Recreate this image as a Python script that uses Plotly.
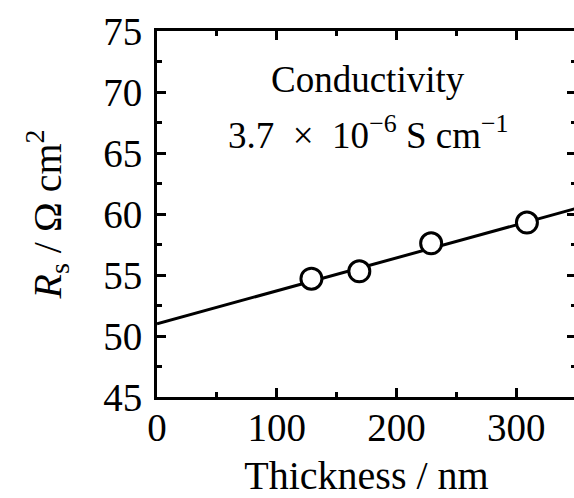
import plotly.graph_objects as go

# Data
thickness_nm = [129, 169, 229, 309]
rs_ohm_cm2 = [54.7, 55.3, 57.6, 59.3]
fit_x = [0, 350]
fit_y = [51.0, 60.45]
x_ticks = [0, 100, 200, 300]
y_ticks = [45, 50, 55, 60, 65, 70, 75]
note_line1 = "Conductivity"
note_line2 = "3.7 \u00a0×\u00a0 10<sup>−6</sup> S cm<sup>−1</sup>"

FONT = "Liberation Serif"

fig = go.Figure()
fig.add_trace(go.Scatter(x=fit_x, y=fit_y, mode="lines",
                         line=dict(color="black", width=3), showlegend=False,
                         hoverinfo="skip"))
fig.add_trace(go.Scatter(x=thickness_nm, y=rs_ohm_cm2, mode="markers",
                         marker=dict(symbol="circle", size=21, color="white",
                                     line=dict(color="black", width=3)),
                         showlegend=False))

fig.add_annotation(x=176, xref="x", y=71.0, yref="y", text=note_line1,
                   showarrow=False, font=dict(family=FONT, size=37, color="black"))
fig.add_annotation(x=177, xref="x", y=66.7, yref="y", text=note_line2,
                   showarrow=False, font=dict(family=FONT, size=37, color="black"))

fig.update_layout(
    width=580, height=498,
    margin=dict(l=157, r=1, t=31, b=101),
    paper_bgcolor="white", plot_bgcolor="white",
    font=dict(family=FONT, size=39, color="black"),
    xaxis=dict(range=[0, 350], tickvals=x_ticks, ticks="inside", ticklen=9, tickwidth=2.5,
               tickcolor="black", showline=True, linecolor="black", linewidth=3,
               mirror="ticks", showgrid=False, zeroline=False,
               minor=dict(dtick=50, tick0=0, ticks="inside", ticklen=5, tickwidth=2.5,
                          tickcolor="black", showgrid=False),
               tickfont=dict(family=FONT, size=39), ticklabelstandoff=-6,
               title=dict(text="Thickness / nm", font=dict(family=FONT, size=40), standoff=15)),
    yaxis=dict(range=[45, 75], tickvals=y_ticks, ticks="inside", ticklen=9, tickwidth=2.5,
               tickcolor="black", showline=True, linecolor="black", linewidth=3,
               mirror="ticks", showgrid=False, zeroline=False,
               minor=dict(dtick=2.5, tick0=45, ticks="inside", ticklen=5, tickwidth=2.5,
                          tickcolor="black", showgrid=False),
               tickfont=dict(family=FONT, size=39), ticklabelstandoff=4,
               title=dict(text="<i>R</i><sub>s</sub> / Ω cm<sup>2</sup>",
                          font=dict(family=FONT, size=40), standoff=30)),
)

fig.write_html(
    "out.html",
    config={"displayModeBar": False},
    post_script="document.body.style.margin='0';"
                "document.body.style.overflow='hidden';"
                "document.documentElement.style.overflow='hidden';",
)
